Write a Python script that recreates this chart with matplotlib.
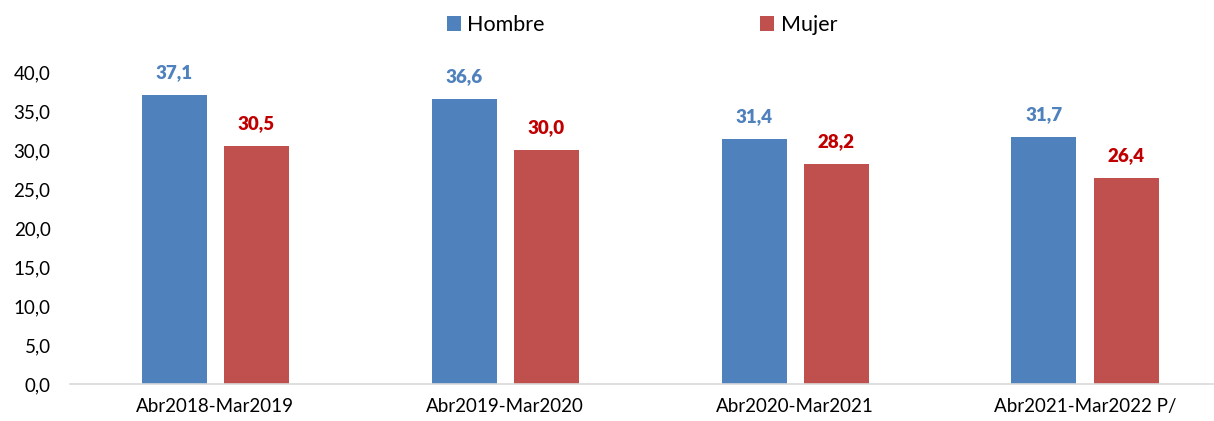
import matplotlib
matplotlib.use("Agg")
import matplotlib.pyplot as plt
import numpy as np

categories = ["Abr2018-Mar2019", "Abr2019-Mar2020", "Abr2020-Mar2021", "Abr2021-Mar2022 P/"]
hombre = [37.1, 36.6, 31.4, 31.7]
mujer = [30.5, 30.0, 28.2, 26.4]
yticks = [0, 5, 10, 15, 20, 25, 30, 35, 40]

plt.rcParams['font.family'] = ['Lato', 'DejaVu Sans']

W, H = 1214, 421
fig = plt.figure(figsize=(W / 100, H / 100), dpi=100)
ax = fig.add_axes([70 / W, (H - 384) / H, (W - 70) / W, (384 - 72) / H])

x = np.arange(len(categories))
bw = 65 / 290
gap = 17 / 290
c_h = "#4F81BD"
c_m = "#C0504D"
bh = ax.bar(x - (bw + gap) / 2, hombre, bw, color=c_h, label="Hombre")
bm = ax.bar(x + (bw + gap) / 2, mujer, bw, color=c_m, label="Mujer")

def fmt(v):
    return f"{v:.1f}".replace(".", ",")

for rect, v in zip(bh, hombre):
    ax.annotate(fmt(v), (rect.get_x() + rect.get_width() / 2, v), xytext=(0, 10),
                textcoords="offset points", ha="center", va="bottom",
                fontsize=13.5, fontweight="heavy", color="#4F81BD", annotation_clip=False)
for rect, v in zip(bm, mujer):
    ax.annotate(fmt(v), (rect.get_x() + rect.get_width() / 2, v), xytext=(0, 10),
                textcoords="offset points", ha="center", va="bottom",
                fontsize=13.5, fontweight="heavy", color="#C00000", annotation_clip=False)

ax.set_xlim(-0.5, 3 + (W - 1085) / 290)
ax.set_ylim(0, 40)
ax.set_yticks(yticks)
ax.set_yticklabels([fmt(t) for t in yticks], fontsize=13.5, color="#000000")
ax.set_xticks(x)
ax.set_xticklabels(categories, fontsize=13.5, color="#000000")
ax.tick_params(axis="both", length=0)
ax.tick_params(axis="y", pad=14)
ax.tick_params(axis="x", pad=10)
for s in ["top", "right", "left"]:
    ax.spines[s].set_visible(False)
ax.spines["bottom"].set_color("#D9D9D9")
ax.spines["bottom"].set_linewidth(1.2)

fig.legend(handles=[bh, bm], labels=["Hombre", "Mujer"], loc="center",
           bbox_to_anchor=(642 / W, (H - 25) / H), ncol=2, frameon=False,
           fontsize=15.5, handlelength=0.65, handleheight=0.65, handletextpad=0.3,
           columnspacing=10)

fig.savefig("out.png", dpi=100)
